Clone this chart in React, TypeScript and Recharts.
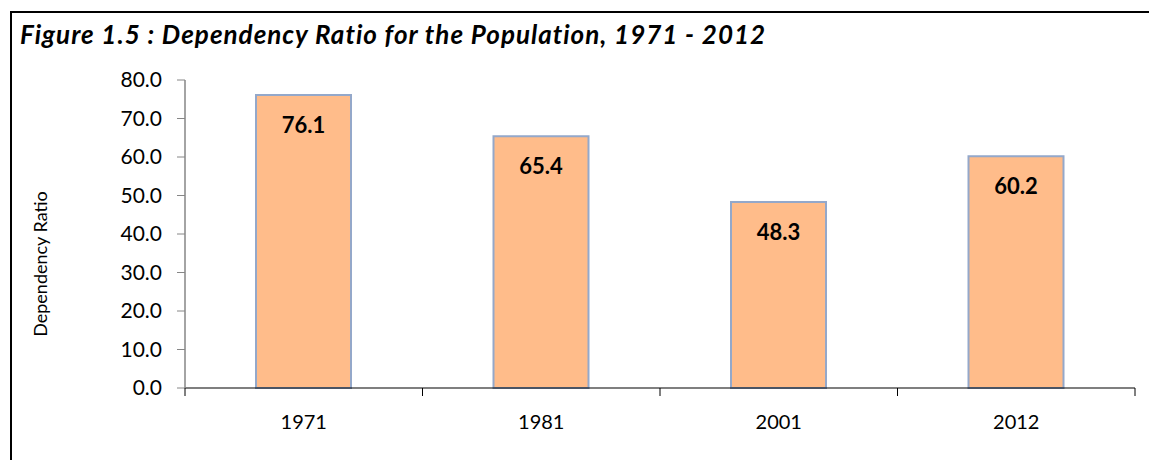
import React from 'react';
import { BarChart, Bar, XAxis, YAxis, LabelList, Label } from 'recharts';

const years = ['1971', '1981', '2001', '2012'];
const ratios = [76.1, 65.4, 48.3, 60.2];
const yTicks = [0, 10, 20, 30, 40, 50, 60, 70, 80];

const data = years.map((year, i) => ({ year, ratio: ratios[i] }));

const FONT = 'Lato, "Open Sans", sans-serif';
const W = 1157;
const H = 468;
const PLOT_LEFT = 185;
const PLOT_RIGHT = 22;
const BAND = (W - PLOT_LEFT - PLOT_RIGHT) / years.length;

// category label plus tick marks on the band boundaries (Excel style)
function YearTick(props: any) {
  const { x, y, payload, index } = props;
  const half = BAND / 2;
  const isLast = index === years.length - 1;
  return (
    <g>
      <line x1={x - half} y1={y - 8} x2={x - half} y2={y} stroke="#000" strokeWidth={1} />
      {isLast && <line x1={x + half} y1={y - 8} x2={x + half} y2={y} stroke="#000" strokeWidth={1} />}
      <text x={x} y={y + 33} textAnchor="middle" fontSize={20} fontFamily={FONT} fill="#000">
        {payload.value}
      </text>
    </g>
  );
}

function AxisTitle(props: any) {
  const { viewBox } = props;
  const cy = viewBox.y + viewBox.height / 2 + 30;
  return (
    <text x={40} y={cy} transform={`rotate(-90, 40, ${cy})`} textAnchor="middle" dominantBaseline="central" fontSize={18} fontFamily={FONT} fill="#000">
      Dependency Ratio
    </text>
  );
}

export default function App() {
  return (
    <div style={{ position: 'relative', width: W, height: H, margin: -8, overflow: 'hidden', background: '#fff' }}>
      <div style={{ position: 'absolute', left: 10, top: 11, width: 1160, height: 470, border: '2px solid #000', boxSizing: 'border-box' }} />
      <div style={{ position: 'absolute', left: 20, top: 19, fontFamily: FONT, fontWeight: 700, fontStyle: 'italic', fontSize: 26, letterSpacing: 1, lineHeight: '30px', color: '#000', whiteSpace: 'nowrap' }}>
        Figure 1.5 : Dependency Ratio for the Population, 1971 - 2012
      </div>
      <div style={{ position: 'absolute', left: 0, top: 0 }}>
        <BarChart width={W} height={H} data={data} margin={{ top: 80, right: PLOT_RIGHT, bottom: 50, left: 15 }} barSize={95}>
          <XAxis dataKey="year" height={30} tickLine={false} axisLine={{ stroke: '#000', strokeWidth: 1.2 }} tick={<YearTick />} interval={0} />
          <YAxis
            width={170}
            domain={[0, 80]}
            ticks={yTicks}
            interval={0}
            tickFormatter={(v: number) => v.toFixed(1)}
            tickSize={8}
            tickMargin={15}
            axisLine={{ stroke: '#868686', strokeWidth: 1.5 }}
            tickLine={{ stroke: '#868686' }}
            tick={{ fontSize: 21, fontFamily: FONT, fill: '#000' }}
          >
            <Label content={<AxisTitle />} />
          </YAxis>
          <Bar dataKey="ratio" fill="#FFBC8A" stroke="#94A8CA" strokeWidth={2} isAnimationActive={false}>
            <LabelList
              dataKey="ratio"
              position="insideTop"
              offset={22}
              formatter={(v: any) => Number(v).toFixed(1)}
              style={{ fontSize: 22, fontWeight: 700, fontFamily: FONT, fill: '#000' }}
            />
          </Bar>
        </BarChart>
      </div>
    </div>
  );
}
